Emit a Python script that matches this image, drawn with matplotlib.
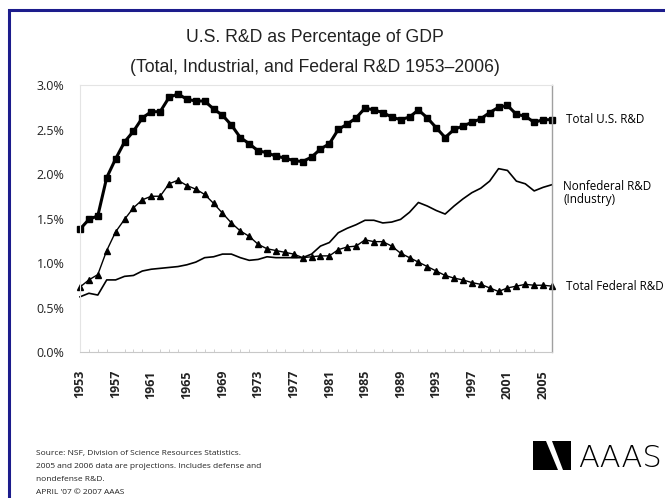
import numpy as np
import matplotlib.pyplot as plt
from matplotlib.patches import Polygon, Rectangle

# Datos (porcentaje del PIB)
anios = np.arange(1953, 2007)

total_rd = [1.38, 1.49, 1.53, 1.96, 2.17, 2.36, 2.48, 2.63, 2.70, 2.70,
            2.86, 2.90, 2.84, 2.82, 2.82, 2.73, 2.66, 2.55, 2.41, 2.34,
            2.26, 2.24, 2.20, 2.18, 2.15, 2.14, 2.19, 2.28, 2.34, 2.50,
            2.56, 2.63, 2.74, 2.72, 2.69, 2.64, 2.61, 2.64, 2.72, 2.63,
            2.52, 2.41, 2.50, 2.54, 2.58, 2.62, 2.69, 2.75, 2.77, 2.67,
            2.65, 2.58, 2.61, 2.61]

nonfederal_rd = [0.62, 0.66, 0.64, 0.81, 0.81, 0.85, 0.86, 0.91, 0.93, 0.94,
                 0.95, 0.96, 0.98, 1.01, 1.06, 1.07, 1.10, 1.10, 1.06, 1.03,
                 1.04, 1.07, 1.06, 1.06, 1.06, 1.06, 1.10, 1.19, 1.23, 1.34,
                 1.39, 1.43, 1.48, 1.48, 1.45, 1.46, 1.49, 1.57, 1.68, 1.64,
                 1.59, 1.55, 1.64, 1.72, 1.79, 1.84, 1.92, 2.06, 2.04, 1.92,
                 1.89, 1.81, 1.85, 1.88]

federal_rd = [0.73, 0.81, 0.87, 1.14, 1.35, 1.49, 1.62, 1.71, 1.75, 1.75,
              1.89, 1.93, 1.87, 1.83, 1.77, 1.67, 1.56, 1.45, 1.36, 1.30,
              1.21, 1.16, 1.14, 1.12, 1.10, 1.06, 1.07, 1.08, 1.08, 1.15,
              1.18, 1.19, 1.26, 1.24, 1.24, 1.19, 1.11, 1.06, 1.01, 0.96,
              0.91, 0.86, 0.83, 0.81, 0.78, 0.76, 0.72, 0.68, 0.72, 0.74,
              0.76, 0.75, 0.75, 0.74]

etiquetas_y = ['0.0%', '0.5%', '1.0%', '1.5%', '2.0%', '2.5%', '3.0%']
valores_y = [0.0, 0.5, 1.0, 1.5, 2.0, 2.5, 3.0]
anios_ticks = list(range(1953, 2006, 4))

W, H = 665, 498
fig = plt.figure(figsize=(W / 100, H / 100), dpi=100, facecolor='w')

# marco azul (solo arriba e izquierda visibles)
fig.add_artist(Rectangle((9 / W, -0.1), 1.2, (H - 10) / H + 0.1, transform=fig.transFigure,
                         fill=False, edgecolor='#1c1c8c', linewidth=2.2))

ax = fig.add_axes([80 / W, (H - 352) / H, 472 / W, 267 / H])
ax.plot(anios, total_rd, color='black', linewidth=2.2, marker='s', markersize=5, clip_on=False)
ax.plot(anios, nonfederal_rd, color='black', linewidth=1.2, clip_on=False)
ax.plot(anios, federal_rd, color='black', linewidth=1.0, marker='^', markersize=4.5, clip_on=False)

ax.set_xlim(1953, 2006)
ax.set_ylim(0, 3.0)
ax.set_yticks(valores_y)
ax.set_yticklabels(etiquetas_y, fontsize=9, family='Open Sans', color='#222222')
ax.set_xticks(anios_ticks)
ax.set_xticklabels([str(a) for a in anios_ticks], rotation=90, fontsize=9,
                   family='Open Sans', fontweight='bold', color='#222222')
ax.set_xticks(anios, minor=True)
ax.tick_params(axis='x', which='major', length=0, pad=13)
ax.tick_params(axis='x', which='minor', length=2, direction='in', color='#c8c8c8', width=0.6)
ax.tick_params(axis='y', length=0, pad=11)
for lado in ['top', 'left']:
    ax.spines[lado].set_color('#e4e4e4')
    ax.spines[lado].set_linewidth(0.8)
ax.spines['bottom'].set_color('#c8c8c8')
ax.spines['bottom'].set_linewidth(0.8)
ax.spines['right'].set_color('#a0a0a0')
ax.spines['right'].set_linewidth(1.0)

# titulos
fig.text(315 / W, 1 - 37 / H, 'U.S. R&D as Percentage of GDP', ha='center', va='center',
         fontsize=12.7, family='Liberation Sans', color='#222222')
fig.text(315 / W, 1 - 67 / H, '(Total, Industrial, and Federal R&D 1953\u20132006)', ha='center',
         va='center', fontsize=12.7, family='Liberation Sans', color='#222222')

# etiquetas de series
ax.annotate('Total U.S. R&D', xy=(2006, total_rd[-1]), xytext=(10, 0), textcoords='offset points',
            va='center', fontsize=8.4, family='Open Sans', annotation_clip=False)
ax.annotate('Nonfederal R&D\n(Industry)', xy=(2006, nonfederal_rd[-1]), xytext=(8, -6),
            textcoords='offset points', va='center', fontsize=8.4, family='Open Sans',
            linespacing=1.05, annotation_clip=False)
ax.annotate('Total Federal R&D', xy=(2006, federal_rd[-1]), xytext=(10, 0), textcoords='offset points',
            va='center', fontsize=8.4, family='Open Sans', annotation_clip=False)

# fuente
fuente = ['Source: NSF, Division of Science Resources Statistics.',
          '2005 and 2006 data are projections. Includes defense and',
          'nondefense R&D.',
          "APRIL '07 \u00a9 2007 AAAS"]
for i, linea in enumerate(fuente):
    fig.text(36 / W, 1 - (453 + i * 13) / H, linea, fontsize=6.0, family='Open Sans',
             va='center', color='#222222')

# logo AAAS
def px(x, y):
    return (x / W, 1 - y / H)

fig.add_artist(Polygon([px(533, 470), px(533, 441), px(546, 441), px(558, 470)],
                       closed=True, transform=fig.transFigure, facecolor='black', edgecolor='none'))
fig.add_artist(Polygon([px(552, 441), px(571, 441), px(571, 470), px(563, 470)],
                       closed=True, transform=fig.transFigure, facecolor='black', edgecolor='none'))
fig.text(578 / W, 1 - 458 / H, 'AAAS', fontsize=22, family='DejaVu Sans', fontweight='light',
         va='center', ha='left', color='black')

fig.savefig('out.png', dpi=100, facecolor='w')
